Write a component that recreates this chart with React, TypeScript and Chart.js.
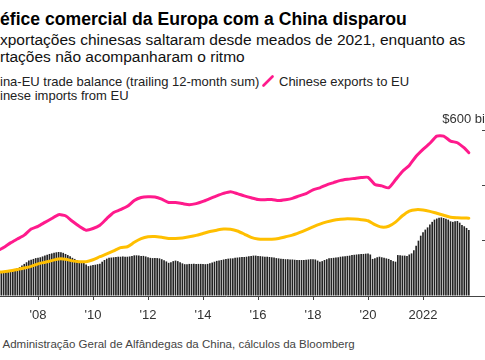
import React, { useEffect, useRef } from 'react';
import { Chart, registerables } from 'chart.js';

Chart.register(...registerables);

// Monthly data starts July 2006 (decimal year 2006.5)
const START_YEAR = 2006.5;

// China-EU trade balance, trailing 12-month sum ($bn), monthly Jul 2006 – Sep 2023
const tradeBalance = [
  80, 82, 84, 86, 88, 90,
  92, 95, 98, 101, 104, 110, 116, 122, 128, 131, 134, 137,
  138, 140, 143, 146, 149, 152, 154, 156, 158, 159, 158, 156,
  152, 148, 144, 138, 134, 130, 126, 122, 120, 114, 108, 110,
  112, 113, 115, 117, 124, 130, 135, 138, 139, 140, 141, 142,
  142, 143, 142, 142, 143, 145, 147, 147, 146, 145, 145, 143,
  140, 138, 137, 137, 137, 136, 133, 129, 125, 120, 122, 126,
  128, 126, 122, 118, 115, 115, 116, 116, 117, 116, 116, 116,
  116, 115, 116, 118, 121, 124, 127, 128, 130, 132, 134, 135,
  136, 136, 138, 139, 140, 141, 141, 142, 144, 145, 146, 146,
  145, 144, 143, 142, 142, 141, 140, 139, 137, 136, 135, 134,
  133, 133, 132, 132, 131, 130, 130, 130, 130, 131, 132, 133,
  133, 132, 128, 124, 126, 130, 133, 136, 137, 138, 139, 140,
  142, 143, 144, 145, 146, 148, 149, 150, 151, 152, 152, 153,
  154, 150, 134, 136, 140, 142, 140, 138, 136, 134, 130, 126,
  124, 148, 147, 146, 146, 145, 150, 154, 165, 182, 200, 218,
  230, 240, 248, 258, 268, 276, 280, 283, 284, 282, 279, 276,
  270, 268, 270, 271, 265, 257, 252, 246, 239,
];

// Chinese exports to EU ($bn, trailing 12-month), quarterly from Jul 2006, last point Sep 2023
const exportsToEU = [
  162, 175, 192, 206, 220, 242, 252, 266, 280, 294,
  290, 270, 252, 238, 244, 256, 280, 302, 312, 324,
  345, 356, 359, 358, 350, 338, 338, 334, 330, 334,
  342, 352, 362, 371, 377, 370, 362, 355, 349, 348,
  349, 345, 348, 353, 362, 370, 384, 391, 402, 410,
  418, 422, 425, 428, 429, 403, 398, 391, 420, 450,
  472, 505, 530, 552, 578, 578, 560, 554, 535, 518,
];

// Chinese imports from EU ($bn, trailing 12-month), same dates as exports
const importsFromEU = [
  86, 88, 91, 96, 101, 107, 116, 122, 128, 134,
  133, 127, 124, 124, 131, 142, 152, 163, 175, 178,
  194, 207, 214, 215, 212, 208, 208, 210, 214, 219,
  226, 233, 238, 242, 241, 235, 224, 212, 206, 205,
  205, 208, 214, 220, 229, 239, 250, 260, 268, 274,
  277, 279, 278, 276, 272, 258, 249, 252, 267, 290,
  307, 312, 311, 306, 299, 292, 285, 283, 282, 281,
];

const xTickYears = [2008, 2010, 2012, 2014, 2016, 2018, 2020, 2022];
const xTickLabels = ["'08", "'10", "'12", "'14", "'16", "'18", "'20", '2022'];
const yTickValues = [0, 200, 400, 600];
const yTickLabels = ['0', '200', '400', '$600 billion'];

const PINK = '#ff1a8c';
const YELLOW = '#ffbf00';
const BAR = '#222222';
const FONT = '"Liberation Sans", Arial, Helvetica, sans-serif';

const X_MIN = 2005.527;
const X_MAX = 2024.145;
const Y_MAX = 643.4;

const yLabelPlugin = {
  id: 'yLabels',
  afterDraw(chart: any) {
    const { ctx, scales } = chart;
    const y = scales.y;
    ctx.save();
    ctx.font = `13px ${FONT}`;
    ctx.fillStyle = '#333';
    ctx.textAlign = 'right';
    ctx.textBaseline = 'alphabetic';
    const xr = chart.chartArea.right + 26;
    yTickValues.forEach((v, k) => {
      ctx.fillText(yTickLabels[k], xr, y.getPixelForValue(v) - 7);
    });
    ctx.restore();
  },
};

function Cropped({ prefix, children, style }: any) {
  return (
    <div style={{ position: 'absolute', whiteSpace: 'nowrap', ...style }}>
      <span style={{ position: 'absolute', right: '100%', top: 0, whiteSpace: 'pre' }}>{prefix}</span>
      {children}
    </div>
  );
}

export default function App() {
  const ref = useRef<HTMLCanvasElement>(null);

  useEffect(() => {
    const canvas = ref.current;
    if (!canvas) return;
    const lineOffsets = exportsToEU.map((_, k) => Math.min(k * 3, tradeBalance.length - 1));
    const balancePts = tradeBalance.map((v, i) => ({ x: START_YEAR + i / 12, y: v }));
    const exportPts = exportsToEU.map((v, k) => ({ x: START_YEAR + lineOffsets[k] / 12, y: v }));
    const importPts = importsFromEU.map((v, k) => ({ x: START_YEAR + lineOffsets[k] / 12, y: v }));

    const chart = new Chart(canvas, {
      type: 'bar',
      data: {
        datasets: [
          {
            type: 'line',
            label: 'Chinese exports to EU',
            data: exportPts,
            borderColor: PINK,
            borderWidth: 3,
            pointRadius: 0,
            borderCapStyle: 'round',
            borderJoinStyle: 'round',
            tension: 0.2,
            order: 1,
          } as any,
          {
            type: 'line',
            label: 'Chinese imports from EU',
            data: importPts,
            borderColor: YELLOW,
            borderWidth: 3,
            pointRadius: 0,
            borderCapStyle: 'round',
            borderJoinStyle: 'round',
            tension: 0.2,
            order: 2,
          } as any,
          {
            type: 'bar',
            label: 'China-EU trade balance (trailing 12-month sum)',
            data: balancePts,
            backgroundColor: BAR,
            borderWidth: 0,
            barPercentage: 1,
            categoryPercentage: 0.72,
            order: 3,
          } as any,
        ],
      },
      options: {
        animation: false,
        responsive: false,
        maintainAspectRatio: false,
        layout: { padding: { top: 18, left: 0, right: 0, bottom: 0 } },
        plugins: { legend: { display: false }, tooltip: { enabled: false } },
        scales: {
          x: {
            type: 'linear',
            min: X_MIN,
            max: X_MAX,
            offset: false,
            grid: { offset: false, drawOnChartArea: false, drawTicks: true, tickLength: 4, color: '#444' },
            border: { display: true, color: '#444', width: 1 },
            ticks: {
              autoSkip: false,
              maxRotation: 0,
              padding: 8,
              color: '#333',
              font: { family: FONT, size: 13 },
              callback: (v: any) => {
                const k = xTickYears.indexOf(Number(v));
                return k >= 0 ? xTickLabels[k] : '';
              },
            },
            afterBuildTicks: (s: any) => {
              s.ticks = xTickYears.map((v) => ({ value: v }));
            },
            afterFit: (s: any) => {
              s.height = 34;
            },
          },
          y: {
            position: 'right',
            min: 0,
            max: Y_MAX,
            grid: { drawOnChartArea: false, drawTicks: true, tickLength: 8, color: '#444' },
            border: { display: false },
            ticks: { display: false },
            afterBuildTicks: (s: any) => {
              s.ticks = yTickValues.map((v) => ({ value: v }));
            },
            afterFit: (s: any) => {
              s.width = 30;
            },
          },
        } as any,
      },
      plugins: [yLabelPlugin],
    });
    return () => chart.destroy();
  }, []);

  return (
    <div
      style={{
        position: 'absolute',
        left: 0,
        top: 0,
        width: 485,
        height: 360,
        overflow: 'hidden',
        background: '#fff',
        fontFamily: FONT,
        color: '#111',
      }}
    >
      <Cropped prefix="O d" style={{ left: 0, top: 9, fontSize: 17.6, lineHeight: '20px', fontWeight: 700, color: '#000' }}>
        éfice comercial da Europa com a China disparou
      </Cropped>
      <Cropped prefix="As e" style={{ left: 0, top: 30.5, fontSize: 15.5, lineHeight: '18px' }}>
        xportações chinesas saltaram desde meados de 2021, enquanto as
      </Cropped>
      <Cropped prefix="impo" style={{ left: 0, top: 48.3, fontSize: 15.5, lineHeight: '18px' }}>
        rtações não acompanharam o ritmo
      </Cropped>
      <Cropped
        prefix={
          <>
            <span style={{ display: 'inline-block', width: 10, height: 10, background: BAR, marginRight: 5 }} />
            Ch
          </>
        }
        style={{ left: 0, top: 73.5, fontSize: 13, lineHeight: '16px', color: '#222' }}
      >
        ina-EU trade balance (trailing 12-month sum)
      </Cropped>
      <svg width={12} height={12} style={{ position: 'absolute', left: 262, top: 75 }}>
        <line x1={1.5} y1={10.5} x2={10.5} y2={1.5} stroke={PINK} strokeWidth={2.6} strokeLinecap="round" />
      </svg>
      <div style={{ position: 'absolute', left: 279, top: 73.5, fontSize: 13, lineHeight: '16px', color: '#222', whiteSpace: 'nowrap' }}>
        Chinese exports to EU
      </div>
      <Cropped
        prefix={
          <>
            <svg width={12} height={12} style={{ marginRight: 5, verticalAlign: -1 }}>
              <line x1={1.5} y1={10.5} x2={10.5} y2={1.5} stroke={YELLOW} strokeWidth={2.6} strokeLinecap="round" />
            </svg>
            Ch
          </>
        }
        style={{ left: 0, top: 87.5, fontSize: 13, lineHeight: '16px', color: '#222' }}
      >
        inese imports from EU
      </Cropped>
      <canvas
        ref={ref}
        width={542}
        height={230}
        style={{ position: 'absolute', left: -30, top: 100, display: 'block' }}
      />
      <Cropped prefix={'Fonte:\u00a0'} style={{ left: 2.5, top: 337, fontSize: 11.5, lineHeight: '14px', color: '#444' }}>
        Administração Geral de Alfândegas da China, cálculos da Bloomberg
      </Cropped>
    </div>
  );
}
